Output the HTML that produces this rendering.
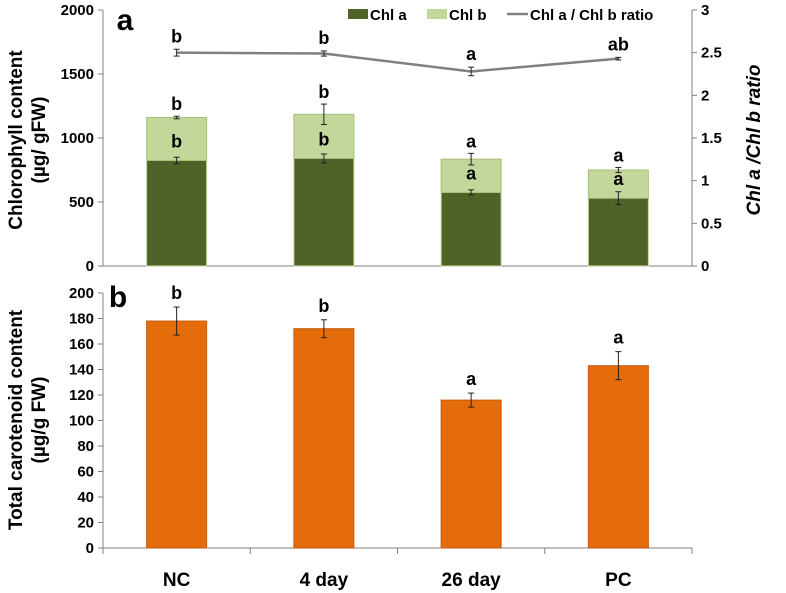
<!DOCTYPE html>
<html><head><meta charset="utf-8"><style>
html,body{margin:0;padding:0;background:#fff;width:786px;height:593px;overflow:hidden}
svg{display:block;font-family:"Liberation Sans Narrow","Liberation Sans",sans-serif;font-weight:bold}
</style></head><body>
<svg id="c" width="786" height="593"></svg>
<script>
const categories=["NC","4 day","26 day","PC"];
const chlA=[825,840,575,530];
const chlAErr=[25,35,20,50];
const chlTotal=[1160,1185,835,750];
const chlTotalErr=[10,80,45,20];
const ratio=[2.50,2.49,2.28,2.43];
const ratioErr=[0.04,0.03,0.05,0.015];
const letA=["b","b","a","a"];
const letTot=["b","b","a","a"];
const letRatio=["b","b","a","ab"];
const carot=[178,172,116,143];
const carotErr=[11,7,5.5,11];
const letCar=["b","b","a","a"];
const leftTicksA=[0,500,1000,1500,2000];
const rightTicksA=[0,0.5,1,1.5,2,2.5,3];
const ticksB=[0,20,40,60,80,100,120,140,160,180,200];

const NS="http://www.w3.org/2000/svg";
const svg=document.getElementById('c');
function mk(t,a,txt,p){const e=document.createElementNS(NS,t);for(const k in a)e.setAttribute(k,a[k]);if(txt!=null)e.textContent=txt;(p||svg).appendChild(e);return e;}
const X0=103,X1=692;
const band=(X1-X0)/categories.length;
const xc=i=>X0+band*(i+0.5);
const BW=60;
const yA=v=>266-v*(256/2000);
const yR=v=>266-v*(256/3);
const B0=548,B1=293;
const yB=v=>B0-v*((B0-B1)/200);
function err(x,y1,y2,name){
 let l=mk('line',{x1:x,x2:x,y1:y1,y2:y2,stroke:'#222','stroke-width':1});
 
 [y1,y2].forEach(y=>{mk('line',{x1:x-3,x2:x+3,y1:y,y2:y,stroke:'#222','stroke-width':1});});
}
function txt(x,y,s,size,name,extra){const t=mk('text',Object.assign({x:x,y:y,'font-size':size,'text-anchor':'middle',fill:'#000'},extra||{}),s);
 return t;}

// Panel a axes
let ax=mk('line',{x1:X0,x2:X0,y1:10,y2:266,stroke:'#808080'});
let ax2=mk('line',{x1:X1,x2:X1,y1:10,y2:266,stroke:'#808080'});
let ax3=mk('line',{x1:X0,x2:X1,y1:266,y2:266,stroke:'#808080'});
leftTicksA.forEach(v=>{mk('line',{x1:X0-5,x2:X0,y1:yA(v),y2:yA(v),stroke:'#808080'});txt(X0-9,yA(v)+5,String(v),15,'left-tick-label',{'text-anchor':'end'});});
rightTicksA.forEach(v=>{mk('line',{x1:X1,x2:X1+5,y1:yR(v),y2:yR(v),stroke:'#808080'});txt(X1+9,yR(v)+5,String(v),15,'right-tick-label',{'text-anchor':'start'});});
categories.forEach((c,i)=>{
 const x=xc(i);
 let b1=mk('rect',{x:x-BW/2,y:yA(chlA[i]),width:BW,height:266-yA(chlA[i]),fill:'#4f6228',stroke:'#c4d79b','stroke-width':1});
 
 let b2=mk('rect',{x:x-BW/2,y:yA(chlTotal[i]),width:BW,height:yA(chlA[i])-yA(chlTotal[i]),fill:'#c4d79b',stroke:'#a9c07a','stroke-width':1});
 
 err(x,yA(chlA[i]+chlAErr[i]),yA(chlA[i]-chlAErr[i]),'error-bar-chl-a');
 err(x,yA(chlTotal[i]+chlTotalErr[i]),yA(chlTotal[i]-chlTotalErr[i]),'error-bar-chl-b');
 txt(x,yA(chlA[i])-13,letA[i],18,'letter-chl-a');
 txt(x,yA(chlTotal[i]+chlTotalErr[i])-6,letTot[i],18,'letter-chl-b');
 txt(x,yR(ratio[i]+ratioErr[i])-7,letRatio[i],18,'letter-ratio');
});
let pts=ratio.map((v,i)=>xc(i)+','+yR(v)).join(' ');
let pl=mk('polyline',{points:pts,fill:'none',stroke:'#808080','stroke-width':2.5});

ratio.forEach((v,i)=>err(xc(i),yR(v+ratioErr[i]),yR(v-ratioErr[i]),'error-bar-ratio'));
txt(125,30,'a',30,'panel-label-a');
// legend
let lg=mk('g',{});
mk('rect',{x:348,y:9,width:20,height:10,fill:'#4f6228'},null,lg);mk('text',{x:370,y:20,'font-size':15},'Chl a',lg);
mk('rect',{x:427,y:9,width:20,height:10,fill:'#c4d79b'},null,lg);mk('text',{x:449,y:20,'font-size':15},'Chl b',lg);
mk('line',{x1:507,x2:528,y1:14,y2:14,stroke:'#808080','stroke-width':2.5},null,lg);mk('text',{x:530,y:20,'font-size':15},'Chl a / Chl b ratio',lg);
txt(22,140,'Chlorophyll content',19,'left-y-axis-title-a',{transform:'rotate(-90 22 140)','font-family':'Liberation Sans, sans-serif'});
txt(45,140,'(µg/ gFW)',19,'left-y-axis-title-a-unit',{transform:'rotate(-90 45 140)','font-family':'Liberation Sans, sans-serif'});
txt(760,140,'Chl a /Chl b ratio',19,'right-y-axis-title',{transform:'rotate(-90 760 140)','font-style':'italic','font-family':'Liberation Sans, sans-serif'});

// Panel b
let bx=mk('line',{x1:X0,x2:X0,y1:B1,y2:B0,stroke:'#808080'});
let bx2=mk('line',{x1:X0,x2:X1,y1:B0,y2:B0,stroke:'#808080'});
ticksB.forEach(v=>{mk('line',{x1:X0-5,x2:X0,y1:yB(v),y2:yB(v),stroke:'#808080'});txt(X0-9,yB(v)+5,String(v),15,'tick-label-b',{'text-anchor':'end'});});
for(let i=0;i<=categories.length;i++){mk('line',{x1:X0+band*i,x2:X0+band*i,y1:B0,y2:B0+6,stroke:'#808080'});}
categories.forEach((c,i)=>{
 const x=xc(i);
 let b=mk('rect',{x:x-BW/2,y:yB(carot[i]),width:BW,height:B0-yB(carot[i]),fill:'#e46c0a',stroke:'#c55a11','stroke-width':1});
 
 err(x,yB(carot[i]+carotErr[i]),yB(carot[i]-carotErr[i]),'error-bar-carotenoid');
 txt(x,yB(carot[i]+carotErr[i])-8,letCar[i],18,'letter-carotenoid');
 txt(x,586,c,19,'category-label');
});
txt(118,307,'b',30,'panel-label-b');
txt(22,420,'Total carotenoid content',19,'y-axis-title-b',{transform:'rotate(-90 22 420)','font-family':'Liberation Sans, sans-serif'});
txt(45,420,'(µg/g FW)',19,'y-axis-title-b-unit',{transform:'rotate(-90 45 420)','font-family':'Liberation Sans, sans-serif'});
</script>
</body></html>
